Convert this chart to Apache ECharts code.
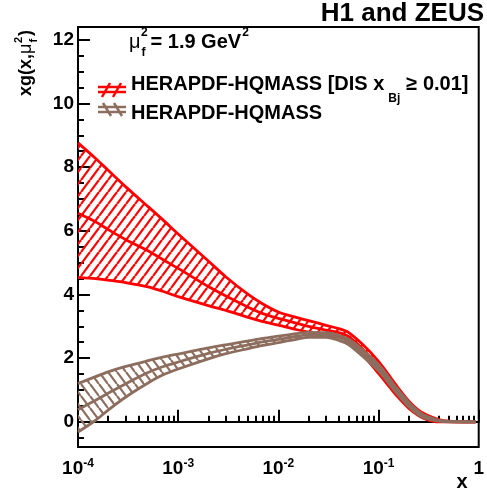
<!DOCTYPE html>
<html>
<head>
<meta charset="utf-8">
<script src="https://cdn.jsdelivr.net/npm/echarts@6/dist/echarts.min.js"></script>
<style>
html,body{margin:0;padding:0;background:#fff;}
#chart{width:487px;height:491px;}
</style>
</head>
<body>
<div id="chart"></div>
<script>
// ---------------- data ----------------
const xValues = [1e-4, 1.5e-4, 2e-4, 3e-4, 5e-4, 7e-4, 1e-3, 2e-3, 3e-3, 5e-3, 7e-3, 1e-2, 1.5e-2, 2e-2, 3e-2, 4e-2, 5e-2, 7e-2, 0.1, 0.13, 0.15, 0.2, 0.25, 0.3, 0.4, 0.5, 0.7, 0.93];

const redUpper   = [8.76, 8.27, 7.90, 7.38, 6.76, 6.35, 5.90, 5.05, 4.55, 4.00, 3.70, 3.45, 3.28, 3.18, 3.03, 2.93, 2.81, 2.42, 1.90, 1.42, 1.15, 0.66, 0.37, 0.22, 0.07, 0.02, 0.00, 0.00];
const redCentral = [6.55, 6.28, 6.04, 5.72, 5.37, 5.10, 4.82, 4.25, 3.95, 3.60, 3.40, 3.25, 3.10, 3.00, 2.88, 2.80, 2.68, 2.27, 1.72, 1.25, 1.00, 0.55, 0.28, 0.15, 0.03, 0.01, 0.00, 0.00];
const redLower   = [4.53, 4.50, 4.45, 4.37, 4.24, 4.10, 3.93, 3.65, 3.50, 3.28, 3.15, 3.04, 2.90, 2.82, 2.73, 2.66, 2.55, 2.10, 1.52, 1.08, 0.84, 0.43, 0.20, 0.08, 0.00, 0.00, 0.00, 0.00];

const brownUpper   = [1.20, 1.42, 1.57, 1.74, 1.92, 2.03, 2.13, 2.32, 2.42, 2.54, 2.62, 2.69, 2.77, 2.81, 2.80, 2.72, 2.60, 2.25, 1.80, 1.34, 1.08, 0.62, 0.33, 0.18, 0.05, 0.02, 0.00, 0.00];
const brownCentral = [0.38, 0.68, 0.90, 1.20, 1.55, 1.73, 1.88, 2.15, 2.28, 2.42, 2.51, 2.59, 2.68, 2.73, 2.73, 2.64, 2.52, 2.15, 1.70, 1.25, 1.00, 0.55, 0.27, 0.14, 0.03, 0.01, 0.00, 0.00];
const brownLower   = [-0.32, 0.05, 0.37, 0.78, 1.22, 1.47, 1.66, 1.98, 2.14, 2.30, 2.40, 2.49, 2.59, 2.65, 2.65, 2.56, 2.43, 2.05, 1.60, 1.16, 0.92, 0.48, 0.22, 0.10, 0.02, 0.00, 0.00, 0.00];

const xTickValues = [1e-4, 1e-3, 1e-2, 1e-1, 1];
const xTickLabels = ['10^-4', '10^-3', '10^-2', '10^-1', '1'];
const xMinorTicks = [2e-4,3e-4,4e-4,5e-4,6e-4,7e-4,8e-4,9e-4, 2e-3,3e-3,4e-3,5e-3,6e-3,7e-3,8e-3,9e-3, 2e-2,3e-2,4e-2,5e-2,6e-2,7e-2,8e-2,9e-2, 0.2,0.3,0.4,0.5,0.6,0.7,0.8,0.9];
const yTickValues = [0, 2, 4, 6, 8, 10, 12];
const yTickLabels = ['0', '2', '4', '6', '8', '10', '12'];
const yMinorTicks = [-0.5, 0.5, 1, 1.5, 2.5, 3, 3.5, 4.5, 5, 5.5, 6.5, 7, 7.5, 8.5, 9, 9.5, 10.5, 11, 11.5, 12.5];

const titleText = 'H1 and ZEUS';
const legendRed = ['HERAPDF-HQMASS [DIS x', 'Bj', '\u2265 0.01]'];
const legendBrown = 'HERAPDF-HQMASS';
const scaleText = ['\u03bc', '2', 'f', '= 1.9 GeV', '2'];
const yNameText = ['xg(x,', '\u03bc', '2', 'f', ')'];
const xNameText = 'x';

// ---------------- styles ----------------
const FONT = '"Liberation Sans", Arial, Helvetica, sans-serif';
const RED = '#ff0000';
const BROWN = '#8c6d5e';

const mctx = document.createElement('canvas').getContext('2d');
function tw(text, size, weight) {
  mctx.font = (weight || 'normal') + ' ' + size + 'px ' + FONT;
  return mctx.measureText(text).width;
}

function makeHatch(color, w, h, dir, lw) {
  const c = document.createElement('canvas');
  c.width = w; c.height = h;
  const ctx = c.getContext('2d');
  ctx.strokeStyle = color;
  ctx.lineWidth = lw;
  for (let k = -1; k <= 1; k++) {
    ctx.beginPath();
    if (dir === '/') { ctx.moveTo(k * w, h); ctx.lineTo(k * w + w, 0); }
    else { ctx.moveTo(k * w, 0); ctx.lineTo(k * w + w, h); }
    ctx.stroke();
  }
  return c;
}
const redHatch = makeHatch(RED, 9, 12, '/', 2.2);
const brownHatch = makeHatch(BROWN, 9, 12, '\\', 2.2);

function hatchSeries(upper, lower, pattern) {
  return {
    type: 'custom',
    coordinateSystem: 'cartesian2d',
    clip: true,
    silent: true,
    data: xValues.map((x, i) => [x, upper[i]]),
    renderItem: function (params, api) {
      if (params.dataIndex !== 0) return null;
      const pts = [];
      for (let i = 0; i < xValues.length; i++) pts.push(api.coord([xValues[i], upper[i]]));
      for (let i = xValues.length - 1; i >= 0; i--) pts.push(api.coord([xValues[i], lower[i]]));
      return {
        type: 'polygon',
        shape: { points: pts },
        style: { fill: { image: pattern, repeat: 'repeat' }, stroke: null }
      };
    }
  };
}
function lineSeries(values, color) {
  return {
    type: 'line',
    data: xValues.map((x, i) => [x, values[i]]),
    showSymbol: false,
    symbol: 'none',
    smooth: 0.3,
    silent: true,
    lineStyle: { color: color, width: 2.8 }
  };
}

const tickStyle = { color: '#000', width: 2 };
const axisCommonX = {
  type: 'log', logBase: 10, min: 1e-4, max: 1, position: 'bottom',
  splitLine: { show: false }
};
const axisCommonY = {
  type: 'value', min: -0.79, max: 12.4, position: 'left',
  splitLine: { show: false }
};

// ---------------- graphics (text, legend) ----------------
const graphics = [];
graphics.push({ type: 'text', x: 484, y: 14, style: { text: titleText, font: 'bold 26px ' + FONT, fill: '#000', align: 'right', verticalAlign: 'middle' } });
graphics.push({ type: 'text', x: 462, y: 482, style: { text: xNameText, font: 'bold 20px ' + FONT, fill: '#000', align: 'center', verticalAlign: 'middle' } });
// mu label
(function () {
  const x0 = 129, cy = 42;
  const wMu = tw(scaleText[0], 20, 'normal');
  graphics.push({ type: 'text', x: x0, y: cy, style: { text: scaleText[0], font: 'normal 20px ' + FONT, fill: '#000', align: 'left', verticalAlign: 'middle' } });
  graphics.push({ type: 'text', x: x0 + wMu + 0.5, y: cy - 9, style: { text: scaleText[1], font: 'bold 12px ' + FONT, fill: '#000', align: 'left', verticalAlign: 'middle' } });
  graphics.push({ type: 'text', x: x0 + wMu + 1, y: cy + 11, style: { text: scaleText[2], font: 'bold 12px ' + FONT, fill: '#000', align: 'left', verticalAlign: 'middle' } });
  const x1 = x0 + wMu + 10;
  const wEq = tw(scaleText[3], 20, 'bold');
  graphics.push({ type: 'text', x: x1, y: cy, style: { text: scaleText[3], font: 'bold 20px ' + FONT, fill: '#000', align: 'left', verticalAlign: 'middle' } });
  graphics.push({ type: 'text', x: x1 + wEq + 1, y: cy - 9, style: { text: scaleText[4], font: 'bold 12px ' + FONT, fill: '#000', align: 'left', verticalAlign: 'middle' } });
})();
// legend red
(function () {
  const tx = 131, cy = 84;
  const w0 = tw(legendRed[0], 20, 'bold');
  graphics.push({ type: 'text', x: tx, y: cy, style: { text: legendRed[0], font: 'bold 20px ' + FONT, fill: '#000', align: 'left', verticalAlign: 'middle' } });
  graphics.push({ type: 'text', x: tx + w0 + 4, y: cy + 15, style: { text: legendRed[1], font: 'bold 12px ' + FONT, fill: '#000', align: 'left', verticalAlign: 'middle' } });
  const w1 = tw(legendRed[1], 12, 'bold');
  graphics.push({ type: 'text', x: tx + w0 + w1 + 10, y: cy, style: { text: legendRed[2], font: 'bold 20px ' + FONT, fill: '#000', align: 'left', verticalAlign: 'middle' } });
  const ic = { stroke: RED, lineWidth: 2.5 };
  graphics.push({ type: 'line', shape: { x1: 98, y1: 87, x2: 126, y2: 87 }, style: ic });
  graphics.push({ type: 'line', shape: { x1: 98, y1: 92, x2: 126, y2: 92 }, style: ic });
  graphics.push({ type: 'line', shape: { x1: 102, y1: 97, x2: 110, y2: 83 }, style: ic });
  graphics.push({ type: 'line', shape: { x1: 113, y1: 97, x2: 121, y2: 83 }, style: ic });
})();
// legend brown
(function () {
  const tx = 131, cy = 113;
  graphics.push({ type: 'text', x: tx, y: cy, style: { text: legendBrown, font: 'bold 20px ' + FONT, fill: '#000', align: 'left', verticalAlign: 'middle' } });
  const ic = { stroke: BROWN, lineWidth: 2.5 };
  graphics.push({ type: 'line', shape: { x1: 98, y1: 107, x2: 126, y2: 107 }, style: ic });
  graphics.push({ type: 'line', shape: { x1: 98, y1: 112, x2: 126, y2: 112 }, style: ic });
  graphics.push({ type: 'line', shape: { x1: 103, y1: 103, x2: 111, y2: 116 }, style: ic });
  graphics.push({ type: 'line', shape: { x1: 114, y1: 103, x2: 122, y2: 116 }, style: ic });
})();
// y name (rotated)
(function () {
  const w0 = tw(yNameText[0], 18, 'bold');
  const wMu = tw(yNameText[1], 18, 'normal');
  const ws = tw('2', 11, 'bold');
  const children = [
    { type: 'text', x: 0, y: 0, style: { text: yNameText[0], font: 'bold 18px ' + FONT, fill: '#000', align: 'left', verticalAlign: 'middle' } },
    { type: 'text', x: w0, y: 0, style: { text: yNameText[1], font: 'normal 18px ' + FONT, fill: '#000', align: 'left', verticalAlign: 'middle' } },
    { type: 'text', x: w0 + wMu + 0.5, y: -7, style: { text: yNameText[2], font: 'bold 11px ' + FONT, fill: '#000', align: 'left', verticalAlign: 'middle' } },
    { type: 'text', x: w0 + wMu + 1, y: 8, style: { text: yNameText[3], font: 'bold 11px ' + FONT, fill: '#000', align: 'left', verticalAlign: 'middle' } },
    { type: 'text', x: w0 + wMu + ws + 1.5, y: 0, style: { text: yNameText[4], font: 'bold 18px ' + FONT, fill: '#000', align: 'left', verticalAlign: 'middle' } }
  ];
  graphics.push({ type: 'group', x: 26, y: 96, rotation: Math.PI / 2, children: children });
})();

// ---------------- chart ----------------
const chart = echarts.init(document.getElementById('chart'), null, { renderer: 'canvas' });
const option = {
  animation: false,
  backgroundColor: '#fff',
  textStyle: { fontFamily: FONT },
  grid: { left: 78, top: 27, width: 408, height: 420, show: true, borderColor: '#000', borderWidth: 2, backgroundColor: 'transparent', containLabel: false },
  xAxis: [
    Object.assign({}, axisCommonX, {
      axisLine: { show: true, lineStyle: { color: '#000', width: 2 } },
      axisTick: { show: true, inside: true, length: 12, customValues: xTickValues, lineStyle: tickStyle },
      axisLabel: {
        show: true, customValues: xTickValues, margin: 11, color: '#000',
        formatter: function (v) {
          const e = Math.round(Math.log10(v));
          const idx = xTickValues.findIndex(t => Math.round(Math.log10(t)) === e);
          const lab = idx >= 0 ? xTickLabels[idx] : String(v);
          const parts = lab.split('^');
          return parts.length === 2 ? '{b|' + parts[0] + '}{s|' + parts[1] + '}' : '{b|' + lab + '}';
        },
        rich: {
          b: { fontSize: 19, fontWeight: 'bold', fontFamily: FONT, color: '#000', lineHeight: 22 },
          s: { fontSize: 12, fontWeight: 'bold', fontFamily: FONT, color: '#000', lineHeight: 10, verticalAlign: 'top' }
        }
      }
    }),
    Object.assign({}, axisCommonX, {
      axisLine: { show: false },
      axisTick: { show: true, inside: true, length: 6, customValues: xMinorTicks, lineStyle: tickStyle },
      axisLabel: { show: false }
    })
  ],
  yAxis: [
    Object.assign({}, axisCommonY, {
      axisLine: { show: true, lineStyle: { color: '#000', width: 2 } },
      axisTick: { show: true, inside: true, length: 12, customValues: yTickValues, lineStyle: tickStyle },
      axisLabel: {
        show: true, customValues: yTickValues, margin: 4, color: '#000',
        fontSize: 19, fontWeight: 'bold', fontFamily: FONT,
        formatter: function (v) {
          const idx = yTickValues.findIndex(t => Math.abs(t - v) < 1e-6);
          return idx >= 0 ? yTickLabels[idx] : '';
        }
      }
    }),
    Object.assign({}, axisCommonY, {
      axisLine: { show: false },
      axisTick: { show: true, inside: true, length: 6, customValues: yMinorTicks, lineStyle: tickStyle },
      axisLabel: { show: false }
    })
  ],
  series: [
    hatchSeries(redUpper, redLower, redHatch),
    lineSeries(redUpper, RED),
    lineSeries(redCentral, RED),
    lineSeries(redLower, RED),
    hatchSeries(brownUpper, brownLower, brownHatch),
    lineSeries(brownUpper, BROWN),
    lineSeries(brownCentral, BROWN),
    lineSeries(brownLower, BROWN)
  ],
  graphic: graphics
};
chart.setOption(option);
</script>
</body>
</html>
